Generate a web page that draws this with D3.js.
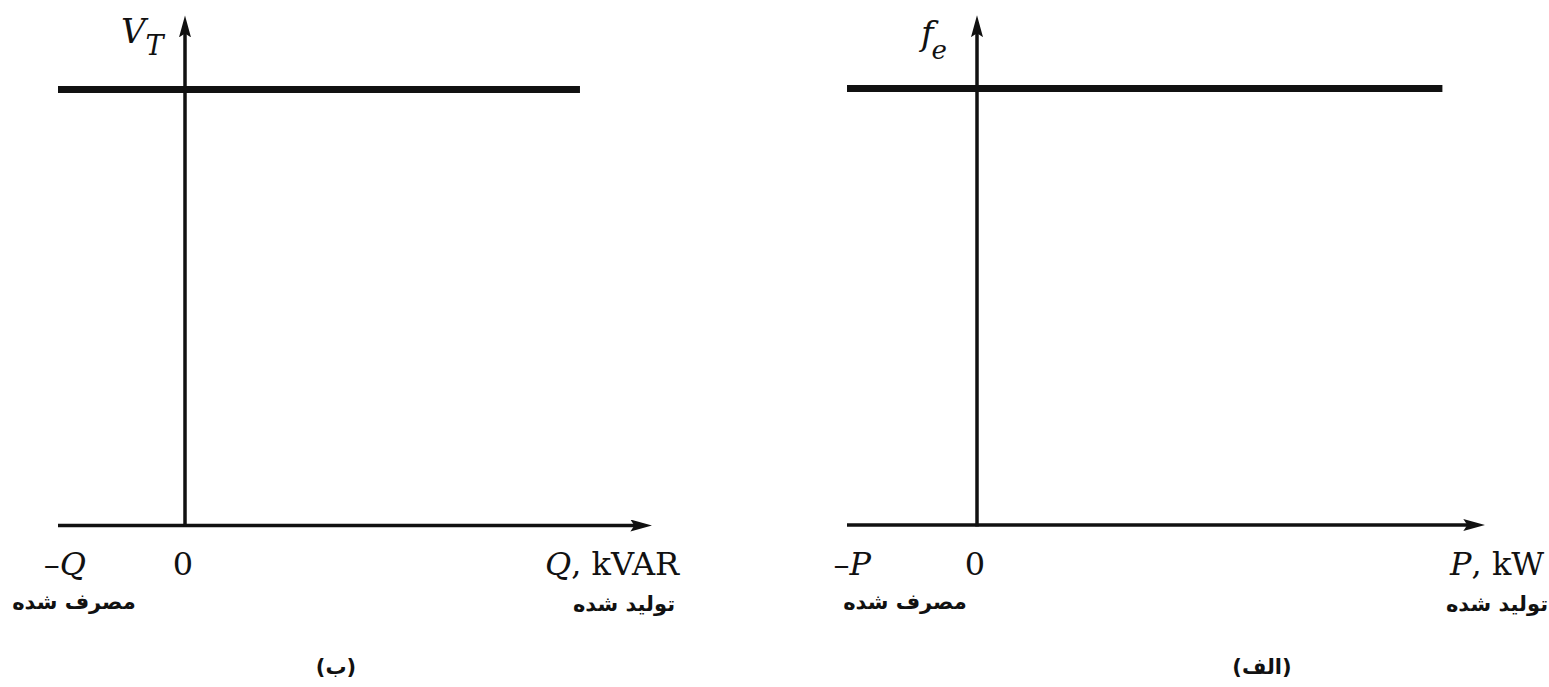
<!DOCTYPE html>
<html>
<head>
<meta charset="utf-8">
<script src="https://cdn.jsdelivr.net/npm/d3@7/dist/d3.min.js"></script>
<style>
  html, body { margin: 0; padding: 0; background: #fff; }
  svg { display: block; }
  .latin { font-family: "DejaVu Serif", "Liberation Serif", serif; fill: #111; }
  .fa { font-family: "DejaVu Sans", "Noto Sans", sans-serif; font-weight: bold; fill: #111; }
</style>
</head>
<body>
<svg id="chart" width="1549" height="687"></svg>
<script>
// Panels: (ب) reactive power vs terminal voltage, (الف) real power vs frequency
const panelIds = ["b", "alef"];
const captions = ["(ب)", "(الف)"];
const yVarMain = ["V", "f"];
const yVarSub = ["T", "e"];
const negLabels = ["Q", "P"];
const posVar = ["Q", "P"];
const posUnit = ["kVAR", "kW"];
const consumedLabel = "مصرف شده";
const generatedLabel = "تولید شده";

// x extents in per-unit: left end of axis, end of the flat characteristic, arrow tip
const xStart = [-1, -1];
const lineEnd = [3.11, 3.58];
const axisEnd = [3.68, 3.91];
// y: flat level of the characteristic and the top of the vertical arrow
const levelValue = [1, 1];
const axisTop = [1.17, 1.168];

// Screen layout for each panel
const layout = [
  { x0: 185, xNeg: 58, yZero: 525.5, yOne: 89.5, capX: 336,
    negEnd: 86, posStart: 545, consX: 74, genX: 624, yLabX: 121, subDx: 0 },
  { x0: 977, xNeg: 847, yZero: 525, yOne: 88.5, capX: 1262,
    negEnd: 871, posStart: 1450, consX: 905, genX: 1497, yLabX: 921, subDx: -2 }
];

const svg = d3.select("#chart");
const defs = svg.append("defs");
defs.append("marker")
  .attr("id", "arrow")
  .attr("viewBox", "0 0 22 12")
  .attr("refX", 12).attr("refY", 6)
  .attr("markerWidth", 22).attr("markerHeight", 12)
  .attr("markerUnits", "userSpaceOnUse")
  .attr("orient", "auto")
  .append("path")
  .attr("d", "M0,0 L22,6 L0,12 L4,6 Z")
  .attr("fill", "#111");

panelIds.forEach((id, i) => {
  const L = layout[i];
  const x = d3.scaleLinear().domain([-1, 0]).range([L.xNeg, L.x0]);
  const y = d3.scaleLinear().domain([0, 1]).range([L.yZero, L.yOne]);
  const g = svg.append("g").attr("class", "panel-" + id);

  // horizontal axis with arrow (line stops under the arrowhead)
  g.append("line")
    .attr("x1", x(xStart[i])).attr("x2", x(axisEnd[i]) - 10)
    .attr("y1", y(0)).attr("y2", y(0))
    .attr("stroke", "#111").attr("stroke-width", 3.5)
    .attr("marker-end", "url(#arrow)");

  // vertical axis with arrow
  g.append("line")
    .attr("x1", x(0)).attr("x2", x(0))
    .attr("y1", y(0) + 1.5).attr("y2", y(axisTop[i]) + 10)
    .attr("stroke", "#111").attr("stroke-width", 3.5)
    .attr("marker-end", "url(#arrow)");

  // flat characteristic
  const lineData = [[xStart[i], levelValue[i]], [lineEnd[i], levelValue[i]]];
  g.append("path")
    .datum(lineData)
    .attr("d", d3.line().x(d => x(d[0])).y(d => y(d[1])))
    .attr("fill", "none")
    .attr("stroke", "#111").attr("stroke-width", 7);

  // y-axis variable with subscript
  const yl = g.append("text").attr("class", "latin")
    .attr("x", L.yLabX).attr("y", i === 0 ? 43 : 45)
    .style("font-size", "34px").style("font-style", "italic");
  yl.append("tspan").text(yVarMain[i]);
  yl.append("tspan").attr("dx", L.subDx).attr("dy", i === 0 ? 12 : 14)
    .style("font-size", i === 0 ? "27px" : "26px").text(yVarSub[i]);

  // tick labels under the x axis
  const tickY = 575;
  const neg = g.append("text").attr("class", "latin")
    .attr("x", L.negEnd).attr("y", tickY)
    .attr("text-anchor", "end").style("font-size", "32px");
  neg.append("tspan").text("–");
  neg.append("tspan").style("font-style", "italic").text(negLabels[i]);

  g.append("text").attr("class", "latin")
    .attr("x", x(0) - 2).attr("y", tickY)
    .attr("text-anchor", "middle").style("font-size", "32px")
    .text("0");

  const pos = g.append("text").attr("class", "latin")
    .attr("x", L.posStart).attr("y", tickY)
    .attr("text-anchor", "start").style("font-size", "32px");
  pos.append("tspan").style("font-style", "italic").text(posVar[i]);
  pos.append("tspan").text(", " + posUnit[i]);

  // Persian annotations
  g.append("text").attr("class", "fa")
    .attr("x", L.consX).attr("y", 609)
    .attr("text-anchor", "middle").attr("direction", "rtl")
    .style("font-size", "21px")
    .text(consumedLabel);
  g.append("text").attr("class", "fa")
    .attr("x", L.genX).attr("y", 611)
    .attr("text-anchor", "middle").attr("direction", "rtl")
    .style("font-size", "21px")
    .text(generatedLabel);

  // panel caption
  g.append("text").attr("class", "fa")
    .attr("x", L.capX).attr("y", 674)
    .attr("text-anchor", "middle").attr("direction", "rtl")
    .style("font-size", "21px")
    .text(captions[i]);
});
</script>
</body>
</html>
